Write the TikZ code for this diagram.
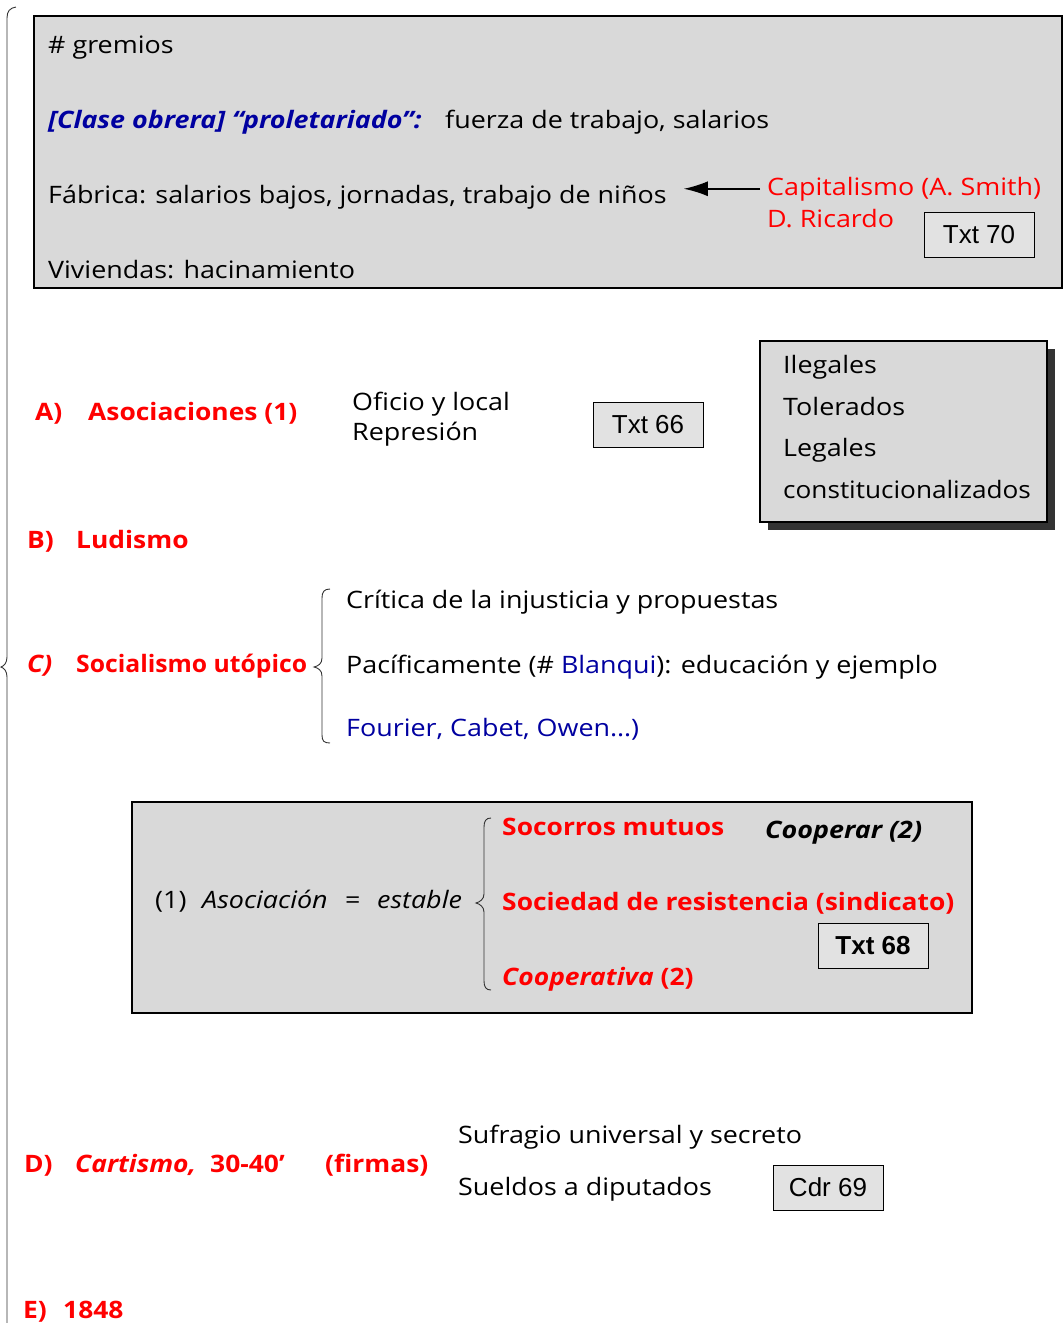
\documentclass[tikz,border=0pt]{standalone}
\usepackage{fontspec}
\setmainfont[FakeStretch=1.12]{Open Sans}
\newfontfamily\arialf{Liberation Sans}
\usetikzlibrary{arrows.meta,shadows}
\definecolor{boxgray}{HTML}{D9D9D9}
\definecolor{tagray}{HTML}{E2E2E2}
\definecolor{navy}{RGB}{0,0,160}
\definecolor{shadowc}{HTML}{333333}
\begin{document}
\begin{tikzpicture}[x=1pt,y=-1pt,
  txt/.style={anchor=base west, inner sep=0pt, font=\fontsize{24}{28}\selectfont},
  redlbl/.style={anchor=base west, inner sep=0pt, text=red, font=\fontsize{24}{28}\selectfont\bfseries\addfontfeature{FakeStretch=1.10}},
  refbox/.style={draw=black, fill=tagray, line width=0.8pt, minimum width=110pt, minimum height=45pt, inner sep=0pt, font=\arialf\fontsize{26}{30}\selectfont},
  panel/.style={draw=black, fill=boxgray, line width=1.8pt, inner sep=0pt},
  bracel/.style={draw=black!80, line width=0.9pt}
]
\useasboundingbox (0,0) rectangle (1064,1323);

% big left brace
\draw[bracel] (16,7) .. controls (10,8) and (7,11) .. (7,18) -- (7,657) .. controls (7,663) and (4,666) .. (1,667) .. controls (4,668) and (7,671) .. (7,677) -- (7,1330);

% top panel
\node[panel, minimum width=1028pt, minimum height=272pt] (top) at (548,152) {};
\node[txt] (grem) at (48,53) {\# gremios};
\node[txt, text=navy, font=\fontsize{24}{28}\selectfont\bfseries\itshape] (clase) at (48,128) {[Clase obrera] “proletariado”:};
\node[txt] (fuerza) at (445,128) {fuerza de trabajo, salarios};
\node[txt] (fab) at (48,203) {Fábrica: salarios bajos, jornadas, trabajo de niños};
\node[txt, text=red] (capit) at (767,195) {Capitalismo (A. Smith)};
\node[txt, text=red] (ricardo) at (767,227) {D. Ricardo};
\node[refbox] (t70) at (979,234.5) {Txt 70};
\node[txt] (viv) at (48,278) {Viviendas: hacinamiento};
\draw[-{Latex[length=24pt,width=15pt]}, line width=1.5pt, shorten <=7pt, shorten >=17pt] (capit.west) -- (capit.west -| fab.east);

% A
\node[redlbl] (la) at (35,420) {A)};
\node[redlbl] (asoc) at (88,420) {Asociaciones (1)};
\node[txt] (oficio) at (352,410) {Oficio y local};
\node[txt] (repres) at (352,440) {Represión};
\node[refbox] (t66) at (648,424.5) {Txt 66};
\node[panel, minimum width=287pt, minimum height=181pt, drop shadow={shadow xshift=8pt, shadow yshift=-8pt, fill=shadowc, opacity=1}] (legal) at (903.5,431.5) {};
\node[txt] (ileg) at (783,373) {Ilegales};
\node[txt] (toler) at (783,415) {Tolerados};
\node[txt] (leg) at (783,456) {Legales};
\node[txt, font=\fontsize{24}{28}\selectfont\addfontfeature{FakeStretch=1.09}] (const) at (783,498) {constitucionalizados};

% B
\node[redlbl] (lb) at (27,548) {B)};
\node[redlbl] (ludismo) at (76,548) {Ludismo};

% C
\node[redlbl, font=\fontsize{24}{28}\selectfont\bfseries\itshape\addfontfeature{FakeStretch=1.10}] (lc) at (27,672) {C)};
\node[redlbl, font=\fontsize{24}{28}\selectfont\bfseries\addfontfeature{FakeStretch=1.03}] (socut) at (76,672) {Socialismo utópico};
\draw[bracel] (330,589) .. controls (324,589) and (322,592) .. (322,598) -- (322,658) .. controls (322,664) and (318,666) .. (314,667) .. controls (318,668) and (322,670) .. (322,676) -- (322,735) .. controls (322,741) and (324,743) .. (330,743);
\node[txt] (critica) at (346,608) {Crítica de la injusticia y propuestas};
\node[txt] (pacif) at (346,673) {Pacíficamente (\# \textcolor{navy}{Blanqui}): educación y ejemplo};
\node[txt, text=navy] (fourier) at (346,736) {Fourier, Cabet, Owen…)};

% box 2
\node[panel, minimum width=840pt, minimum height=211pt] (asocbox) at (552,907.5) {};
\node[txt] (uno) at (155,908) {(1)};
\node[txt, font=\fontsize{24}{28}\selectfont\itshape] (asociacion) at (202,908) {Asociación};
\node[txt] (igual) at (345,908) {=};
\node[txt, font=\fontsize{24}{28}\selectfont\itshape] (estable) at (377,908) {estable};
\draw[bracel] (491,818) .. controls (486,818) and (484,821) .. (484,827) -- (484,894) .. controls (484,899) and (480,902) .. (476,903) .. controls (480,904) and (484,907) .. (484,912) -- (484,981) .. controls (484,987) and (486,990) .. (491,990);
\node[redlbl] (socorros) at (502,835) {Socorros mutuos};
\node[txt, font=\fontsize{24}{28}\selectfont\bfseries\itshape] (cooperar) at (765,838) {Cooperar (2)};
\node[redlbl] (sociedad) at (502,910) {Sociedad de resistencia (sindicato)};
\node[refbox, font=\arialf\bfseries\fontsize{26}{30}\selectfont] (t68) at (873,945.5) {Txt 68};
\node[redlbl] (coopva) at (502,985) {\textit{Cooperativa} (2)};

% D
\node[redlbl] (ld) at (24,1172) {D)};
\node[redlbl] (cartismo) at (75,1172) {\textit{Cartismo,}};
\node[redlbl] (years) at (210,1172) {30-40\char"0027};
\node[redlbl] (firmas) at (325,1172) {(firmas)};
\node[txt] (sufragio) at (458,1143) {Sufragio universal y secreto};
\node[txt] (sueldos) at (458,1195) {Sueldos a diputados};
\node[refbox] (c69) at (828,1187.5) {Cdr 69};

% E
\node[redlbl] (le) at (23,1318) {E)};
\node[redlbl] (y1848) at (63,1318) {1848};
\end{tikzpicture}
\end{document}
